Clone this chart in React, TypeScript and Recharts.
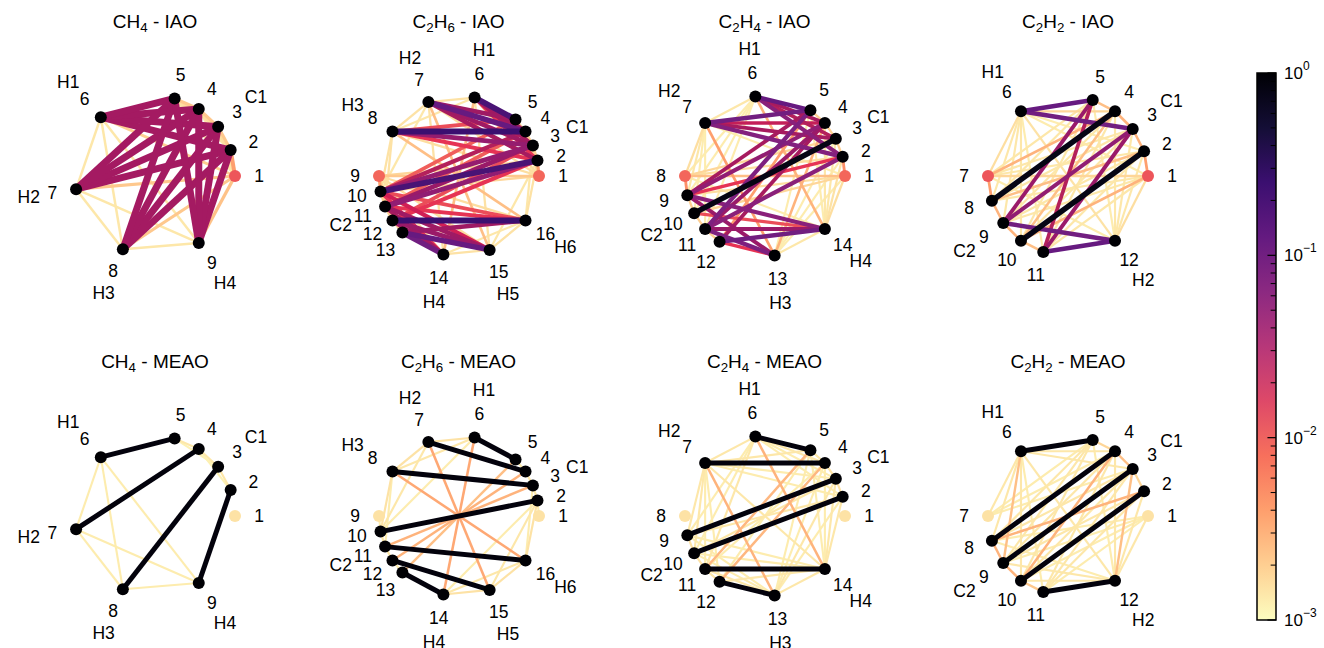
import React from 'react';
import { ScatterChart, Scatter, XAxis, YAxis, ComposedChart, ReferenceArea, ReferenceLine } from 'recharts';

type Edge = [number, number, number];

// atoms: label + number of orbitals on that atom
const ch4Atoms: [string, number][] = [['C1', 5], ['H1', 1], ['H2', 1], ['H3', 1], ['H4', 1]];
const c2h6Atoms: [string, number][] = [['C1', 5], ['H1', 1], ['H2', 1], ['H3', 1], ['C2', 5], ['H4', 1], ['H5', 1], ['H6', 1]];
const c2h4Atoms: [string, number][] = [['C1', 5], ['H1', 1], ['H2', 1], ['C2', 5], ['H3', 1], ['H4', 1]];
const c2h2Atoms: [string, number][] = [['C1', 5], ['H1', 1], ['C2', 5], ['H2', 1]];

// node values (colour)
const ch4IaoNodes = [0.011, 1, 1, 1, 1, 1, 1, 1, 1];
const ch4MeaoNodes = [0.0015, 1, 1, 1, 1, 1, 1, 1, 1];
const c2h6IaoNodes = [0.009, 1, 1, 1, 1, 1, 1, 1, 0.009, 1, 1, 1, 1, 1, 1, 1];
const c2h6MeaoNodes = [0.0015, 1, 1, 1, 1, 1, 1, 1, 0.0015, 1, 1, 1, 1, 1, 1, 1];
const c2h4IaoNodes = [0.009, 1, 1, 1, 1, 1, 1, 0.009, 1, 1, 1, 1, 1, 1];
const c2h4MeaoNodes = [0.0015, 1, 1, 1, 1, 1, 1, 0.0015, 1, 1, 1, 1, 1, 1];
const c2h2IaoNodes = [0.011, 1, 1, 1, 1, 1, 0.011, 1, 1, 1, 1, 1];
const c2h2MeaoNodes = [0.0015, 1, 1, 1, 1, 1, 0.0015, 1, 1, 1, 1, 1];

// edges: [node a, node b, value]
const ch4IaoEdges: Edge[] = [
  [2, 6, 0.032], [3, 6, 0.032], [4, 6, 0.032], [5, 6, 0.032],
  [2, 7, 0.032], [3, 7, 0.032], [4, 7, 0.032], [5, 7, 0.032],
  [2, 8, 0.032], [3, 8, 0.032], [4, 8, 0.032], [5, 8, 0.032],
  [2, 9, 0.032], [3, 9, 0.032], [4, 9, 0.032], [5, 9, 0.032],
  [1, 2, 0.004], [2, 3, 0.0022], [3, 4, 0.0022], [4, 5, 0.0022], [2, 4, 0.0016], [3, 5, 0.0016], [2, 5, 0.0015],
  [1, 3, 0.0015], [1, 4, 0.0014], [1, 5, 0.0014],
  [1, 6, 0.002], [1, 7, 0.0022], [1, 8, 0.0022], [1, 9, 0.0024],
  [6, 7, 0.0014], [6, 8, 0.0014], [6, 9, 0.0014], [7, 8, 0.0014], [7, 9, 0.0014], [8, 9, 0.0014],
];

const ch4MeaoEdges: Edge[] = [
  [5, 6, 0.9], [4, 7, 0.9], [3, 8, 0.9], [2, 9, 0.9],
  [6, 7, 0.0013], [6, 8, 0.0013], [6, 9, 0.0013], [7, 8, 0.0013], [7, 9, 0.0013], [8, 9, 0.0013],
  [2, 3, 0.0014], [3, 4, 0.0014], [4, 5, 0.0014], [2, 4, 0.0012], [3, 5, 0.0012],
];

const c2h6IaoEdges: Edge[] = [
  [5, 6, 0.2], [4, 6, 0.035], [3, 6, 0.03], [2, 6, 0.015],
  [4, 7, 0.12], [5, 7, 0.035], [3, 7, 0.035], [2, 7, 0.03],
  [4, 8, 0.25], [3, 8, 0.045], [2, 8, 0.015], [5, 8, 0.012],
  [2, 10, 0.2], [3, 10, 0.045], [2, 11, 0.05], [3, 11, 0.04], [4, 10, 0.025], [2, 12, 0.015], [3, 12, 0.012], [4, 11, 0.01], [5, 10, 0.01],
  [12, 16, 0.25], [11, 16, 0.015], [10, 16, 0.012], [13, 16, 0.035],
  [13, 15, 0.12], [12, 15, 0.04], [11, 15, 0.035], [10, 15, 0.02],
  [13, 14, 0.1], [12, 14, 0.035], [11, 14, 0.03], [10, 14, 0.015],
  [1, 2, 0.004], [1, 9, 0.0022], [9, 10, 0.004], [1, 10, 0.0018], [2, 9, 0.0018],
  [1, 6, 0.0016], [1, 7, 0.0016], [1, 8, 0.0016], [9, 14, 0.0016], [9, 15, 0.0016], [9, 16, 0.0016],
  [6, 7, 0.0015], [6, 8, 0.0014], [7, 8, 0.0015], [14, 15, 0.0015], [15, 16, 0.0015], [14, 16, 0.0014],
  [6, 14, 0.0025], [7, 15, 0.0025], [8, 16, 0.0025], [7, 14, 0.0015], [6, 15, 0.0015],
  [2, 3, 0.002], [3, 4, 0.002], [4, 5, 0.002], [10, 11, 0.002], [11, 12, 0.002], [12, 13, 0.002],
  [8, 10, 0.0015], [8, 11, 0.0015], [7, 10, 0.0014], [2, 16, 0.0015], [3, 16, 0.0014], [2, 15, 0.0014],
  [9, 11, 0.002], [9, 12, 0.0018], [1, 3, 0.002], [1, 4, 0.0018],
];

const c2h6MeaoEdges: Edge[] = [
  [5, 6, 0.9], [4, 7, 0.9], [3, 8, 0.9], [2, 10, 0.9], [11, 16, 0.9], [12, 15, 0.9], [13, 14, 0.9],
  [6, 14, 0.0035], [7, 15, 0.0035], [8, 16, 0.0035], [3, 11, 0.003], [4, 12, 0.003], [5, 13, 0.0025],
  [6, 7, 0.0015], [6, 8, 0.0014], [7, 8, 0.0015], [14, 15, 0.0015], [15, 16, 0.0015], [14, 16, 0.0014],
  [8, 10, 0.0015], [7, 10, 0.0014], [6, 10, 0.0013], [8, 11, 0.0013],
  [2, 16, 0.0015], [2, 15, 0.0014], [2, 14, 0.0013], [3, 16, 0.0013],
  [2, 3, 0.0014], [3, 4, 0.0014], [4, 5, 0.0013], [10, 11, 0.0014], [11, 12, 0.0014], [12, 13, 0.0013],
  [1, 2, 0.0013], [9, 10, 0.0013],
];

const c2h4IaoEdges: Edge[] = [
  [3, 10, 0.8],
  [5, 6, 0.12], [2, 6, 0.06], [4, 6, 0.03], [3, 6, 0.025],
  [5, 7, 0.1], [2, 7, 0.07], [4, 7, 0.022], [3, 7, 0.03],
  [4, 9, 0.05], [2, 9, 0.015], [5, 9, 0.03], [5, 11, 0.08], [4, 11, 0.04], [2, 11, 0.06], [4, 12, 0.03],
  [11, 14, 0.04], [12, 14, 0.1], [11, 13, 0.08], [12, 13, 0.015], [9, 13, 0.04], [9, 14, 0.06], [10, 14, 0.012],
  [7, 13, 0.004], [6, 14, 0.003], [5, 12, 0.004], [4, 13, 0.003],
  [1, 8, 0.0025], [1, 2, 0.005], [8, 9, 0.005], [3, 8, 0.0018], [1, 10, 0.0018], [1, 9, 0.0016], [2, 8, 0.0016],
  [6, 7, 0.0014], [7, 8, 0.0016], [6, 8, 0.0013], [13, 14, 0.0014], [1, 14, 0.0016], [1, 13, 0.0013],
  [7, 9, 0.0014], [7, 10, 0.0013], [7, 11, 0.0013], [6, 9, 0.0013], [6, 10, 0.0013], [6, 11, 0.0013],
  [2, 14, 0.0015], [3, 14, 0.0014], [4, 14, 0.0014], [5, 14, 0.0013], [2, 13, 0.0013], [3, 13, 0.0013], [5, 13, 0.0013],
  [2, 3, 0.002], [3, 4, 0.002], [4, 5, 0.002], [9, 10, 0.002], [10, 11, 0.002], [11, 12, 0.002],
  [8, 14, 0.0013], [1, 7, 0.0013],
];

const c2h4MeaoEdges: Edge[] = [
  [5, 6, 0.9], [4, 7, 0.9], [3, 9, 0.9], [2, 10, 0.9], [11, 14, 0.9], [12, 13, 0.9],
  [7, 13, 0.003], [6, 14, 0.003], [5, 11, 0.0028], [4, 12, 0.0028],
  [6, 7, 0.0014], [13, 14, 0.0014], [7, 14, 0.0014], [6, 9, 0.0013], [6, 10, 0.0013], [6, 11, 0.0014],
  [7, 9, 0.0014], [7, 10, 0.0014], [7, 11, 0.0013], [7, 12, 0.0013],
  [2, 14, 0.0014], [3, 14, 0.0014], [4, 14, 0.0013], [5, 14, 0.0013],
  [2, 13, 0.0013], [3, 13, 0.0014], [4, 13, 0.0013], [5, 13, 0.0013],
  [2, 6, 0.0013], [3, 6, 0.0013], [4, 6, 0.0014], [2, 7, 0.0013], [3, 7, 0.0013], [5, 7, 0.0014],
  [9, 14, 0.0013], [10, 14, 0.0013], [12, 14, 0.0014], [9, 13, 0.0013], [10, 13, 0.0013], [11, 13, 0.0014],
  [2, 3, 0.0015], [3, 4, 0.0015], [4, 5, 0.0014], [9, 10, 0.0015], [10, 11, 0.0015], [11, 12, 0.0014],
  [3, 10, 0.0014], [2, 9, 0.0014], [4, 11, 0.0013], [5, 12, 0.0013],
];

const c2h2IaoEdges: Edge[] = [
  [4, 8, 0.8], [2, 10, 0.8],
  [5, 6, 0.12], [3, 6, 0.1], [11, 12, 0.12], [9, 12, 0.1],
  [5, 9, 0.04], [5, 11, 0.025], [3, 9, 0.05], [3, 11, 0.04],
  [4, 7, 0.003], [1, 10, 0.003], [2, 8, 0.0025], [4, 10, 0.0025],
  [1, 2, 0.004], [2, 3, 0.003], [3, 4, 0.003], [4, 5, 0.0025],
  [7, 8, 0.004], [8, 9, 0.003], [9, 10, 0.003], [10, 11, 0.0025],
  [6, 7, 0.0016], [6, 8, 0.0014], [6, 9, 0.0014], [6, 10, 0.0014], [6, 11, 0.0013], [6, 12, 0.0015],
  [1, 12, 0.0016], [2, 12, 0.0014], [3, 12, 0.0014], [4, 12, 0.0014], [5, 12, 0.0013],
  [1, 7, 0.0018], [1, 8, 0.0014], [1, 9, 0.0014], [1, 11, 0.0014],
  [2, 7, 0.0014], [3, 7, 0.0014], [5, 7, 0.0014], [1, 6, 0.0013], [7, 12, 0.0013],
  [5, 8, 0.0014], [5, 10, 0.0014], [4, 9, 0.0014], [4, 11, 0.0014], [3, 8, 0.0014], [3, 10, 0.0014],
  [2, 9, 0.0014], [2, 11, 0.0014], [2, 6, 0.0013], [4, 6, 0.0018],
];

const c2h2MeaoEdges: Edge[] = [
  [5, 6, 0.9], [4, 8, 0.9], [3, 9, 0.9], [2, 10, 0.9], [11, 12, 0.9],
  [2, 8, 0.003], [4, 10, 0.003], [3, 12, 0.0025], [6, 9, 0.0025],
  [8, 9, 0.003], [9, 10, 0.003], [3, 4, 0.0025], [10, 11, 0.0022], [4, 5, 0.0018], [2, 3, 0.0018],
  [6, 7, 0.0014], [6, 8, 0.0014], [6, 10, 0.0014], [6, 11, 0.0013], [6, 12, 0.0014],
  [1, 12, 0.0014], [2, 12, 0.0014], [4, 12, 0.0014], [5, 12, 0.0013],
  [1, 8, 0.0013], [1, 9, 0.0013], [1, 10, 0.0013], [1, 11, 0.0013],
  [7, 4, 0.0013], [7, 5, 0.0013], [7, 3, 0.0013],
  [5, 8, 0.0014], [5, 9, 0.0014], [5, 10, 0.0014], [4, 9, 0.0014], [4, 11, 0.0014], [3, 8, 0.0014],
  [3, 10, 0.0014], [3, 11, 0.0014], [2, 9, 0.0014], [2, 11, 0.0014], [6, 3, 0.0014], [6, 4, 0.0014],
  [12, 8, 0.0013], [12, 9, 0.0014], [12, 10, 0.0014],
];

// colorbar
const cbarMajor = [0.001, 0.01, 0.1, 1];
const cbarMinor = [
  0.002, 0.003, 0.004, 0.005, 0.006, 0.007, 0.008, 0.009,
  0.02, 0.03, 0.04, 0.05, 0.06, 0.07, 0.08, 0.09,
  0.2, 0.3, 0.4, 0.5, 0.6, 0.7, 0.8, 0.9,
];

const magmaStops = ['#000004', '#140e36', '#3b0f70', '#641a80', '#8c2981', '#b73779', '#de4968', '#f7705c', '#fe9f6d', '#fecf92', '#fcfdbf'];

const FONT = '"Liberation Sans", Arial, Helvetica, sans-serif';

function hexToRgb(h: string) {
  return [parseInt(h.slice(1, 3), 16), parseInt(h.slice(3, 5), 16), parseInt(h.slice(5, 7), 16)];
}

function rgbToHsl(r: number, g: number, b: number) {
  r /= 255; g /= 255; b /= 255;
  const mx = Math.max(r, g, b), mn = Math.min(r, g, b);
  const l = (mx + mn) / 2;
  if (mx === mn) return [0, 0, l];
  const d = mx - mn;
  const s = l > 0.5 ? d / (2 - mx - mn) : d / (mx + mn);
  let h = 0;
  if (mx === r) h = (g - b) / d + (g < b ? 6 : 0);
  else if (mx === g) h = (b - r) / d + 2;
  else h = (r - g) / d + 4;
  return [h / 6, s, l];
}

function hslToRgb(h: number, s: number, l: number) {
  if (s === 0) return [l * 255, l * 255, l * 255];
  const hue = (p: number, q: number, t: number) => {
    if (t < 0) t += 1;
    if (t > 1) t -= 1;
    if (t < 1 / 6) return p + (q - p) * 6 * t;
    if (t < 1 / 2) return q;
    if (t < 2 / 3) return p + (q - p) * (2 / 3 - t) * 6;
    return p;
  };
  const q = l < 0.5 ? l * (1 + s) : l + s - l * s;
  const p = 2 * l - q;
  return [hue(p, q, h + 1 / 3) * 255, hue(p, q, h) * 255, hue(p, q, h - 1 / 3) * 255];
}

// magma_r on log scale 1e-3 .. 1; graph marks in the magenta range come out deeper than the bar
function colorOf(v: number) {
  let t = (Math.log10(v) + 3) / 3;
  t = Math.max(0, Math.min(1, t));
  const s = (1 - t) * (magmaStops.length - 1);
  const i = Math.min(Math.floor(s), magmaStops.length - 2);
  const f = s - i;
  const a = hexToRgb(magmaStops[i]);
  const b = hexToRgb(magmaStops[i + 1]);
  const c0 = a.map((x, k) => x + (b[k] - x) * f);
  const w = Math.exp(-Math.pow((t - 0.5) / 0.1, 2));
  const [h, sat, l] = rgbToHsl(c0[0], c0[1], c0[2]);
  const c = hslToRgb(h, Math.min(1, sat * (1 + 0.35 * w)), l * (1 - 0.2 * w));
  return `rgb(${Math.round(c[0])},${Math.round(c[1])},${Math.round(c[2])})`;
}

function buildLayout(atoms: [string, number][]) {
  const units = atoms.reduce((s, a) => s + (a[1] - 1) + 3, 0);
  const step = (2 * Math.PI) / units;
  const angles: number[] = [];
  const marks: { label: string; angle: number }[] = [];
  let pos = 0;
  atoms.forEach(([label, n]) => {
    const first = pos;
    for (let k = 0; k < n; k++) {
      angles.push(pos * step);
      if (k < n - 1) pos += 1;
    }
    marks.push({ label, angle: (first + Math.floor(n / 2)) * step });
    pos += 3;
  });
  return { angles, marks };
}

const panels = [
  { formula: 'CH4', method: 'IAO', atoms: ch4Atoms, nodes: ch4IaoNodes, edges: ch4IaoEdges, cx: 155, cy: 175.5, wMax: 7 },
  { formula: 'C2H6', method: 'IAO', atoms: c2h6Atoms, nodes: c2h6IaoNodes, edges: c2h6IaoEdges, cx: 458.5, cy: 175.5, wMax: 6 },
  { formula: 'C2H4', method: 'IAO', atoms: c2h4Atoms, nodes: c2h4IaoNodes, edges: c2h4IaoEdges, cx: 764.5, cy: 175.5, wMax: 5.5 },
  { formula: 'C2H2', method: 'IAO', atoms: c2h2Atoms, nodes: c2h2IaoNodes, edges: c2h2IaoEdges, cx: 1068, cy: 176, wMax: 5.5 },
  { formula: 'CH4', method: 'MEAO', atoms: ch4Atoms, nodes: ch4MeaoNodes, edges: ch4MeaoEdges, cx: 155, cy: 516, wMax: 5 },
  { formula: 'C2H6', method: 'MEAO', atoms: c2h6Atoms, nodes: c2h6MeaoNodes, edges: c2h6MeaoEdges, cx: 458.5, cy: 516, wMax: 5 },
  { formula: 'C2H4', method: 'MEAO', atoms: c2h4Atoms, nodes: c2h4MeaoNodes, edges: c2h4MeaoEdges, cx: 764.5, cy: 516, wMax: 5 },
  { formula: 'C2H2', method: 'MEAO', atoms: c2h2Atoms, nodes: c2h2MeaoNodes, edges: c2h2MeaoEdges, cx: 1068, cy: 516, wMax: 5 },
];

const noShape = () => <g />;
const nodeShape = (p: any) => <circle cx={p.cx} cy={p.cy} r={6} fill={p.payload.fill} />;
const textShape = (p: any) => (
  <text x={p.cx} y={p.cy} textAnchor="middle" dominantBaseline="central" fontSize={17.5} fontFamily={FONT} fill="#000">
    {p.payload.text}
  </text>
);

function Formula({ f }: { f: string }) {
  return (
    <>
      {f.split(/(\d)/).filter(Boolean).map((part, i) =>
        /\d/.test(part) ? (
          <sub key={i} style={{ fontSize: '0.7em', verticalAlign: '-0.3em', lineHeight: 0 }}>{part}</sub>
        ) : (
          <span key={i}>{part}</span>
        )
      )}
    </>
  );
}

function Graph({ p }: { p: any }) {
  const { angles, marks } = buildLayout(p.atoms);
  const pts = angles.map((a, i) => ({ x: Math.cos(a), y: Math.sin(a), fill: colorOf(p.nodes[i]) }));
  const numLabels = angles.map((a, i) => ({ x: 1.3 * Math.cos(a), y: 1.3 * Math.sin(a), text: String(i + 1) }));
  const atomLabels = marks.map((m) => ({ x: 1.6 * Math.cos(m.angle), y: 1.6 * Math.sin(m.angle), text: m.label }));
  const vmax = Math.max(...p.edges.map((e: Edge) => e[2]));
  const norm = (v: number) => Math.max(0, (Math.log10(v) + 3) / (Math.log10(vmax) + 3));
  const sorted: Edge[] = [...p.edges].sort((a: Edge, b: Edge) => a[2] - b[2]);
  return (
    <>
      <div style={{ position: 'absolute', left: p.cx - 160, top: p.cy - 160 }}>
        <ScatterChart width={320} height={320} margin={{ top: 0, right: 0, bottom: 0, left: 0 }}>
          <XAxis type="number" dataKey="x" domain={[-2, 2]} allowDataOverflow hide />
          <YAxis type="number" dataKey="y" domain={[-2, 2]} allowDataOverflow hide />
          {sorted.map(([a, b, v], k) => (
            <Scatter
              key={k}
              data={[pts[a - 1], pts[b - 1]]}
              line={{ stroke: colorOf(v), strokeWidth: 2 + (p.wMax - 2) * norm(v) }}
              shape={noShape}
              isAnimationActive={false}
            />
          ))}
          <Scatter data={pts} shape={nodeShape} isAnimationActive={false} />
          <Scatter data={numLabels} shape={textShape} isAnimationActive={false} />
          <Scatter data={atomLabels} shape={textShape} isAnimationActive={false} />
        </ScatterChart>
      </div>
      <div
        style={{
          position: 'absolute', left: p.cx - 150, width: 300, top: p.cy - 165, textAlign: 'center',
          fontFamily: FONT, fontSize: 19, lineHeight: '22px', color: '#000',
        }}
      >
        <Formula f={p.formula} /> - {p.method}
      </div>
    </>
  );
}

const cbarTick = (props: any) => {
  const { x, y, payload } = props;
  const e = Math.round(Math.log10(payload.value));
  return (
    <text x={x} y={y} dy={6} textAnchor="start" fontSize={17} fontFamily={FONT} fill="#000">
      10
      <tspan dy={-9} fontSize={12}>{e === 0 ? '0' : '\u2212' + Math.abs(e)}</tspan>
    </text>
  );
};

function ColorBar() {
  return (
    <div style={{ position: 'absolute', left: 1230, top: 60 }}>
      <ComposedChart width={94} height={575} margin={{ top: 13, right: 0, bottom: 15, left: 27 }} data={[{ x: 0, y: 0.001 }, { x: 1, y: 1 }]}>
        <XAxis type="number" dataKey="x" domain={[0, 1]} hide />
        <YAxis
          type="number"
          dataKey="y"
          orientation="right"
          scale="log"
          domain={[0.001, 1]}
          ticks={cbarMajor}
          axisLine={false}
          tickLine={false}
          width={48}
          tick={cbarTick}
          allowDataOverflow
        />
        <ReferenceArea x1={0} x2={1} y1={0.001} y2={1} fill="url(#magmaR)" fillOpacity={1} stroke="none" />
        {cbarMinor.map((v) => (
          <ReferenceLine key={'m' + v} segment={[{ x: 0.72, y: v }, { x: 1, y: v }]} stroke="#000" strokeWidth={1} />
        ))}
        {cbarMajor.map((v) => (
          <ReferenceLine key={'M' + v} segment={[{ x: 0.55, y: v }, { x: 1, y: v }]} stroke="#000" strokeWidth={1.2} />
        ))}
        <ReferenceArea x1={0} x2={1} y1={0.001} y2={1} fill="none" stroke="#000" strokeWidth={1.5} />
      </ComposedChart>
    </div>
  );
}

export default function App() {
  return (
    <div style={{ position: 'fixed', left: 0, top: 0, width: 1324, height: 648, background: '#fff', overflow: 'hidden' }}>
      <svg width={0} height={0} style={{ position: 'absolute' }}>
        <defs>
          <linearGradient id="magmaR" x1="0" y1="0" x2="0" y2="1">
            {magmaStops.map((c, i) => (
              <stop key={i} offset={`${(i / (magmaStops.length - 1)) * 100}%`} stopColor={c} />
            ))}
          </linearGradient>
        </defs>
      </svg>
      {panels.map((p, i) => (
        <Graph key={i} p={p} />
      ))}
      <ColorBar />
    </div>
  );
}
